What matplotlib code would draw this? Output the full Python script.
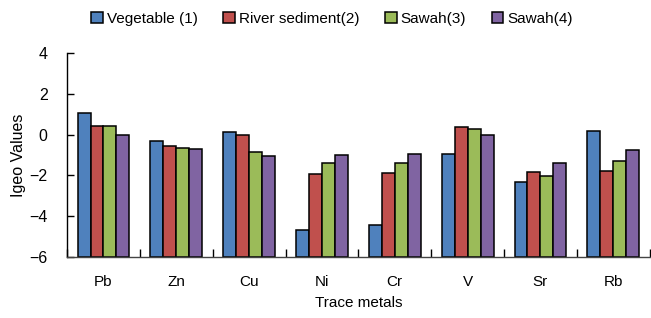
import matplotlib.pyplot as plt
import numpy as np

plt.rcParams['font.family'] = ['Liberation Sans', 'DejaVu Sans']

metals = ['Pb', 'Zn', 'Cu', 'Ni', 'Cr', 'V', 'Sr', 'Rb']
vegetable = [1.06, -0.29, 0.11, -4.68, -4.44, -0.96, -2.34, 0.16]
river = [0.41, -0.54, -0.02, -1.93, -1.89, 0.39, -1.84, -1.76]
sawah3 = [0.41, -0.65, -0.83, -1.37, -1.41, 0.28, -2.05, -1.28]
sawah4 = [0.00, -0.70, -1.06, -1.01, -0.96, -0.02, -1.41, -0.76]

series = [('Vegetable (1)', vegetable, '#4F81BD'),
          ('River sediment(2)', river, '#C0504D'),
          ('Sawah(3)', sawah3, '#9BBB59'),
          ('Sawah(4)', sawah4, '#8064A2')]

fig = plt.figure(figsize=(6.51, 3.18), dpi=100)
ax = fig.add_axes([0.103, 0.192, 0.895, 0.641])

x = np.arange(len(metals))
w = 0.178
base = -6
for i, (name, vals, col) in enumerate(series):
    v = np.array(vals)
    ax.bar(x + (i - 1.5) * w, v - base, w, bottom=base, color=col,
           edgecolor='black', linewidth=1.1, label=name)

ax.set_xlim(-0.5, len(metals) - 0.5)
ax.set_ylim(-6, 4)
ax.set_yticks([-6, -4, -2, 0, 2, 4])
ax.set_xticks(x)
ax.set_xticklabels(metals, fontsize=11)
ax.set_xticks(np.arange(len(metals) + 1) - 0.5, minor=True)
ax.tick_params(axis='x', which='major', length=0, pad=13)
ax.tick_params(axis='x', which='minor', direction='in', length=6, width=1)
ax.tick_params(axis='y', direction='in', length=5, width=1, labelsize=11.5, pad=14)

for s in ['top', 'right']:
    ax.spines[s].set_visible(False)
ax.spines['left'].set_linewidth(1)
ax.spines['bottom'].set_linewidth(1)
ax.spines['bottom'].set_color('#444444')

ax.set_ylabel('Igeo Values', fontsize=11.5, labelpad=2)
ax.set_xlabel('Trace metals', fontsize=11, labelpad=5)

fig.legend(loc='center', bbox_to_anchor=(0.51, 0.94), ncol=4, frameon=False,
           fontsize=11, handlelength=0.75, handleheight=0.75, handletextpad=0.25,
           columnspacing=1.7, borderpad=0)

fig.savefig('out.png', dpi=100)
